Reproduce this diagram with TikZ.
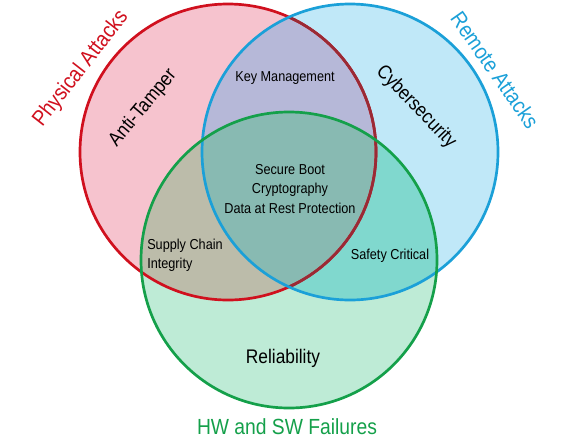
\documentclass[tikz,border=0pt]{standalone}
\usepackage{fontspec}
\setmainfont[FakeStretch=0.88]{Liberation Sans}
\usepackage{xcolor}
\usepackage{tikz}
\usetikzlibrary{positioning,calc}

\definecolor{physred}{HTML}{D0101E}
\definecolor{physdark}{HTML}{9A2A35}
\definecolor{remoteblue}{HTML}{1BA0D8}
\definecolor{failgreen}{HTML}{14A04A}
\definecolor{physfill}{HTML}{F6C3CE}
\definecolor{remotefill}{HTML}{C0E8F8}
\definecolor{failfill}{HTML}{BEEBD6}
\definecolor{prfill}{HTML}{B6B8D8}
\definecolor{pffill}{HTML}{BCBCAA}
\definecolor{rffill}{HTML}{80D8CE}
\definecolor{allfill}{HTML}{88BAB2}

\tikzset{
    ring/.style={line width=2.3pt},
    area/.style={font=\fontsize{12.3}{16.6}\selectfont, align=center},
    field/.style={font=\fontsize{16.8}{20}\selectfont},
    threat/.style={font=\fontsize{18.7}{22}\selectfont}
}

\begin{document}
\begin{tikzpicture}[x=0.03cm, y=-0.03cm]
    \useasboundingbox (0,0) rectangle (570,443);
    \coordinate (phys) at (228,152);
    \coordinate (remote) at (350,152);
    \coordinate (fail) at (289,260);
    \def\rad{148}

    % circle fills
    \fill[physfill] (phys) circle (\rad);
    \fill[remotefill] (remote) circle (\rad);
    \fill[failfill] (fail) circle (\rad);
    % overlaps
    \begin{scope}
        \clip (phys) circle (\rad);
        \fill[prfill] (remote) circle (\rad);
        \fill[pffill] (fail) circle (\rad);
    \end{scope}
    \begin{scope}
        \clip (remote) circle (\rad);
        \fill[rffill] (fail) circle (\rad);
        \clip (phys) circle (\rad);
        \fill[allfill] (fail) circle (\rad);
    \end{scope}

    % outlines
    \draw[ring, physred] (phys) circle (\rad);
    \begin{scope}
        \clip (remote) circle (\rad);
        \draw[ring, physdark] (phys) circle (\rad);
    \end{scope}
    \draw[ring, remoteblue] (remote) circle (\rad);
    \draw[ring, failgreen] (fail) circle (\rad);

    % labels
    \node[threat, text=physred, rotate=52] (physlbl) at (81,69) {Physical Attacks};
    \node[threat, text=remoteblue, rotate=-55] (remotelbl) at (495,70) {Remote Attacks};
    \node[threat, text=failgreen] (faillbl) at (287,427) {HW and SW Failures};

    \node[field, rotate=50] (tamper) at (143,108) {Anti-Tamper};
    \node[field, rotate=-46] (cyber) at (416,107) {Cybersecurity};
    \node[field] (reliab) at (283,358) {Reliability};

    \node[area] (keymgmt) at (285,78) {Key Management};
    \node[area] (core) at (290,189) {Secure Boot\\Cryptography\\Data at Rest Protection};
    \node[area, align=left] (supply) at (185,255) {Supply Chain\\Integrity};
    \node[area] (safety) at (390,256) {Safety Critical};
\end{tikzpicture}
\end{document}
